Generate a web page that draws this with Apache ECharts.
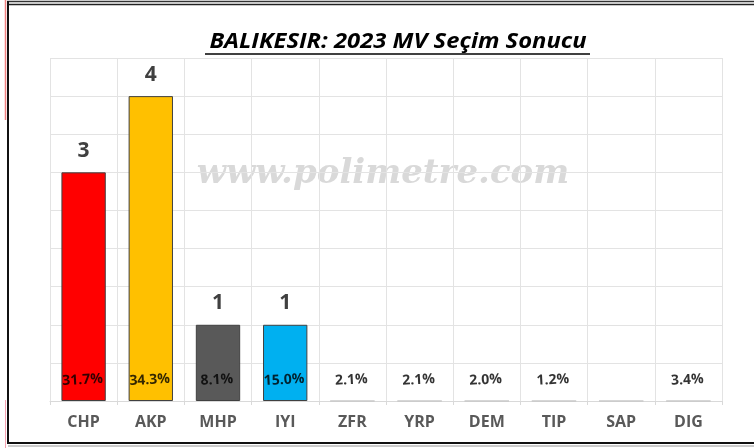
<!DOCTYPE html>
<html>
<head>
<meta charset="utf-8">
<script src="https://cdn.jsdelivr.net/npm/echarts@6/dist/echarts.min.js"></script>
<style>
  html, body { margin: 0; padding: 0; background: #fff; }
  #main { width: 754px; height: 448px; }
</style>
</head>
<body>
<div id="main"></div>
<script>
  // parti isimleri, sandalye ve oy yüzdeleri
  var parties = ['CHP', 'AKP', 'MHP', 'IYI', 'ZFR', 'YRP', 'DEM', 'TIP', 'SAP', 'DIG'];
  var seats = [3, 4, 1, 1, 0, 0, 0, 0, 0, 0];
  var percents = ['31.7%', '34.3%', '8.1%', '15.0%', '2.1%', '2.1%', '2.0%', '1.2%', '', '3.4%'];
  var colors = ['#ff0000', '#ffc000', '#595959', '#00b0f0', '#ffffff', '#ffffff', '#ffffff', '#ffffff', '#ffffff', '#ffffff'];

  var myChart = echarts.init(document.getElementById('main'));

  var barData = seats.map(function (v, i) {
    return {
      value: v,
      itemStyle: {
        color: colors[i],
        borderColor: v > 0 ? '#404040' : '#c8c8c8',
        borderWidth: 1
      },
      label: { show: v > 0 }
    };
  });

  var pctData = percents.map(function (p, i) {
    return { value: [i, 0], name: p };
  });

  var option = {
    backgroundColor: '#ffffff',
    animation: false,
    grid: { left: 50, right: 32, top: 58, bottom: 47 },
    xAxis: {
      type: 'category',
      data: parties,
      axisLine: { show: true, lineStyle: { color: '#d9d9d9', width: 1 } },
      axisTick: { show: true, length: 4, lineStyle: { color: '#d9d9d9' } },
      splitLine: { show: true, lineStyle: { color: '#e3e3e3', width: 1 } },
      axisLabel: {
        color: '#595959',
        fontFamily: 'Open Sans',
        fontWeight: 'bold',
        fontSize: 16,
        margin: 13
      }
    },
    yAxis: {
      type: 'value',
      min: 0,
      max: 4.5,
      interval: 0.5,
      axisLabel: { show: false },
      axisLine: { show: false },
      axisTick: { show: false },
      splitLine: { lineStyle: { color: '#e3e3e3', width: 1 } }
    },
    graphic: [
      // başlık
      {
        type: 'text',
        x: 398,
        y: 42,
        scaleX: 1.08,
        style: {
          text: 'BALIKESIR: 2023 MV Seçim Sonucu',
          font: 'italic bold 22px "Open Sans"',
          fill: '#000000',
          align: 'center',
          verticalAlign: 'middle'
        }
      },
      {
        type: 'line',
        shape: { x1: 205, y1: 54, x2: 590, y2: 54 },
        style: { stroke: '#000000', lineWidth: 1.5 }
      },
      // filigran
      {
        type: 'text',
        x: 383,
        y: 174,
        z: 0,
        style: {
          text: 'www.polimetre.com',
          font: 'italic bold 34px "DejaVu Serif"',
          fill: '#d9d9d9',
          align: 'center',
          verticalAlign: 'middle'
        }
      },
      // çerçeve
      { type: 'line', shape: { x1: 7, y1: 1.5, x2: 754, y2: 1.5 }, style: { stroke: '#333333', lineWidth: 1.5 } },
      { type: 'line', shape: { x1: 7, y1: 4.5, x2: 754, y2: 4.5 }, style: { stroke: '#222222', lineWidth: 1.5 } },
      { type: 'line', shape: { x1: 8, y1: 1, x2: 8, y2: 444 }, style: { stroke: '#111111', lineWidth: 2 } },
      { type: 'line', shape: { x1: 5.5, y1: 0, x2: 5.5, y2: 120 }, style: { stroke: '#f08080', lineWidth: 1.5 } },
      { type: 'line', shape: { x1: 5.5, y1: 400, x2: 5.5, y2: 448 }, style: { stroke: '#f4a0b0', lineWidth: 1 } },
      { type: 'line', shape: { x1: 8, y1: 443, x2: 754, y2: 443 }, style: { stroke: '#111111', lineWidth: 2 } },
      { type: 'line', shape: { x1: 8, y1: 446, x2: 754, y2: 446 }, style: { stroke: '#999999', lineWidth: 1 } }
    ],
    series: [
      {
        name: 'Sandalye',
        type: 'bar',
        data: barData,
        barWidth: '66%',
        z: 3,
        label: {
          show: true,
          position: 'top',
          distance: 11,
          color: '#404040',
          fontFamily: 'Open Sans',
          fontWeight: 'bold',
          fontSize: 21
        }
      },
      {
        name: 'Yüzde',
        type: 'scatter',
        data: pctData,
        symbolSize: 0,
        z: 5,
        label: {
          show: true,
          position: 'inside',
          offset: [0, -21],
          rotate: 3,
          formatter: function (p) { return p.name; },
          color: '#000000',
          fontFamily: 'Open Sans',
          fontWeight: 'bold',
          fontSize: 14
        }
      }
    ]
  };

  myChart.setOption(option);
</script>
</body>
</html>
